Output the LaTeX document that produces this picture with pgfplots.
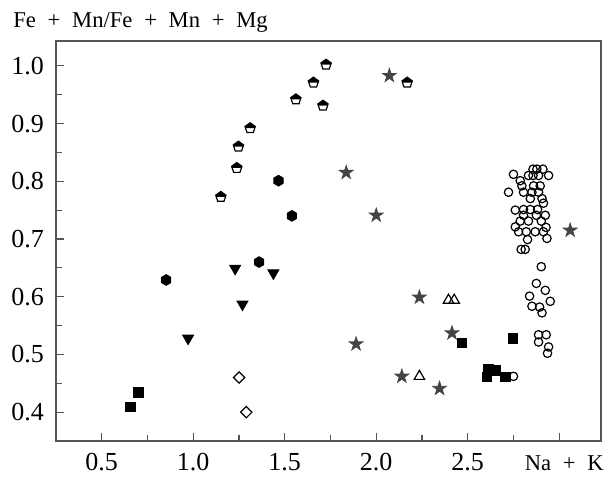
\documentclass[border=0pt]{standalone}
\usepackage{pgfplots}
\pgfplotsset{compat=1.18}
\usepackage{fontspec}
\setmainfont{Liberation Serif}
\usetikzlibrary{calc,plotmarks}
\definecolor{stargray}{HTML}{444444}
\definecolor{axgray}{HTML}{555555}

% pentagon, white with a black upper half
\pgfdeclareplotmark{halfpent}{%
  \pgfpathmoveto{\pgfqpoint{0pt}{\pgfplotmarksize}}%
  \pgfpathlineto{\pgfqpoint{-0.951\pgfplotmarksize}{0.309\pgfplotmarksize}}%
  \pgfpathlineto{\pgfqpoint{-0.588\pgfplotmarksize}{-0.809\pgfplotmarksize}}%
  \pgfpathlineto{\pgfqpoint{0.588\pgfplotmarksize}{-0.809\pgfplotmarksize}}%
  \pgfpathlineto{\pgfqpoint{0.951\pgfplotmarksize}{0.309\pgfplotmarksize}}%
  \pgfpathclose
  \pgfusepathqfillstroke
  \begin{pgfscope}
  \pgfsetfillcolor{black}%
  \pgfpathmoveto{\pgfqpoint{0pt}{\pgfplotmarksize}}%
  \pgfpathlineto{\pgfqpoint{-0.951\pgfplotmarksize}{0.309\pgfplotmarksize}}%
  \pgfpathlineto{\pgfqpoint{-0.851\pgfplotmarksize}{0pt}}%
  \pgfpathlineto{\pgfqpoint{0.851\pgfplotmarksize}{0pt}}%
  \pgfpathlineto{\pgfqpoint{0.951\pgfplotmarksize}{0.309\pgfplotmarksize}}%
  \pgfpathclose
  \pgfusepathqfill
  \end{pgfscope}
}
% filled hexagon
\pgfdeclareplotmark{hexa}{%
  \pgfpathmoveto{\pgfqpoint{0pt}{\pgfplotmarksize}}%
  \pgfpathlineto{\pgfqpoint{-0.866\pgfplotmarksize}{0.5\pgfplotmarksize}}%
  \pgfpathlineto{\pgfqpoint{-0.866\pgfplotmarksize}{-0.5\pgfplotmarksize}}%
  \pgfpathlineto{\pgfqpoint{0pt}{-\pgfplotmarksize}}%
  \pgfpathlineto{\pgfqpoint{0.866\pgfplotmarksize}{-0.5\pgfplotmarksize}}%
  \pgfpathlineto{\pgfqpoint{0.866\pgfplotmarksize}{0.5\pgfplotmarksize}}%
  \pgfpathclose
  \pgfusepathqfillstroke
}
% filled five-point star
\pgfdeclareplotmark{fstar}{%
  \pgfpathmoveto{\pgfqpoint{0pt}{\pgfplotmarksize}}%
  \pgfpathlineto{\pgfqpoint{-0.2245\pgfplotmarksize}{0.309\pgfplotmarksize}}%
  \pgfpathlineto{\pgfqpoint{-0.951\pgfplotmarksize}{0.309\pgfplotmarksize}}%
  \pgfpathlineto{\pgfqpoint{-0.363\pgfplotmarksize}{-0.118\pgfplotmarksize}}%
  \pgfpathlineto{\pgfqpoint{-0.588\pgfplotmarksize}{-0.809\pgfplotmarksize}}%
  \pgfpathlineto{\pgfqpoint{0pt}{-0.382\pgfplotmarksize}}%
  \pgfpathlineto{\pgfqpoint{0.588\pgfplotmarksize}{-0.809\pgfplotmarksize}}%
  \pgfpathlineto{\pgfqpoint{0.363\pgfplotmarksize}{-0.118\pgfplotmarksize}}%
  \pgfpathlineto{\pgfqpoint{0.951\pgfplotmarksize}{0.309\pgfplotmarksize}}%
  \pgfpathlineto{\pgfqpoint{0.2245\pgfplotmarksize}{0.309\pgfplotmarksize}}%
  \pgfpathclose
  \pgfusepathqfillstroke
}

\newcommand\numfont{\fontsize{13}{15}\selectfont}
\newcommand\lblfont{\fontsize{11.3}{13}\selectfont}
\newcommand\plus{\hspace{0.52em}+\hspace{0.52em}}

\begin{document}
\begin{tikzpicture}
\begin{axis}[
  scale only axis, width=272.65pt, height=200pt,
  xmin=0.25, xmax=3.23, ymin=0.35, ymax=1.043,
  axis line style={axgray, line width=0.8pt},
  tick style={axgray, line width=0.6pt},
  major tick length=4pt, minor tick length=3pt,
  tick pos=left, tick align=inside,
  xtick={0.5,1,1.5,2,2.5,3},
  xticklabels={0.5,1.0,1.5,2.0,2.5,{\lblfont\hspace*{5pt}Na\plus K}},
  minor x tick num=1,
  ytick={0.4,0.5,0.6,0.7,0.8,0.9,1.0},
  yticklabels={0.4,0.5,0.6,0.7,0.8,0.9,1.0},
  minor y tick num=1,
  tick label style={font=\numfont},
  xticklabel style={yshift=-2.5pt, text height=8.8pt},
  yticklabel style={xshift=-2.5pt},
  clip=false,
]
\coordinate (bl) at (rel axis cs:0,0);
\coordinate (tr) at (rel axis cs:1,1);

% filled squares
\addplot[only marks, mark=square*, mark size=2.4pt, black] coordinates {
  (0.655,0.409) (0.70,0.434) (2.468,0.520) (2.747,0.528)
  (2.614,0.475) (2.650,0.472) (2.605,0.461) (2.705,0.461)
};
% open diamonds (squares turned by 45 degrees)
\addplot[only marks, mark=square, mark size=2pt, black, mark options={rotate=45, line width=0.6pt}] coordinates {
  (1.251,0.460) (1.290,0.400)
};
% open triangles
\addplot[only marks, mark=triangle, mark size=3pt, black, mark options={line width=0.6pt}] coordinates {
  (2.395,0.594) (2.426,0.594) (2.236,0.462)
};
% down triangles
\addplot[only marks, mark=triangle*, mark size=3.2pt, black, mark options={rotate=180}] coordinates {
  (1.229,0.649) (1.438,0.641) (1.269,0.587) (0.972,0.528)
};
% hexagons
\addplot[only marks, mark=hexa, mark size=2.7pt, black] coordinates {
  (1.466,0.801) (1.539,0.740) (1.360,0.660) (0.852,0.629)
};
% half-filled pentagons
\addplot[only marks, mark=halfpent, mark size=2.7pt, black, mark options={fill=white, line width=0.6pt}] coordinates {
  (1.726,1.002) (1.657,0.971) (1.561,0.942) (1.709,0.931) (1.311,0.892)
  (1.247,0.860) (1.238,0.823) (1.151,0.773) (2.169,0.971)
};
% stars
\addplot[only marks, mark=fstar, mark size=3.6pt, stargray] coordinates {
  (2.236,0.599) (2.414,0.537) (2.140,0.462) (2.346,0.441) (2.072,0.983)
  (1.836,0.815) (2.000,0.741) (1.890,0.518) (3.060,0.715)
};
% open circles
\addplot[only marks, mark=o, mark size=2.1pt, black, mark options={fill=white, line width=0.6pt}] coordinates {
  (2.857,0.821) (2.911,0.821) (2.878,0.821)
  (2.750,0.812) (2.832,0.810) (2.857,0.810) (2.887,0.810) (2.942,0.810)
  (2.787,0.801) (2.796,0.792) (2.860,0.792) (2.896,0.792)
  (2.723,0.781) (2.805,0.781) (2.851,0.781) (2.887,0.781)
  (2.842,0.770) (2.906,0.770) (2.914,0.762)
  (2.760,0.750) (2.805,0.751) (2.842,0.751) (2.882,0.751)
  (2.805,0.741) (2.875,0.741) (2.924,0.741)
  (2.787,0.731) (2.832,0.731) (2.902,0.731)
  (2.760,0.721) (2.928,0.720)
  (2.778,0.7125) (2.820,0.7125) (2.869,0.7125) (2.914,0.7125)
  (2.827,0.699) (2.933,0.701)
  (2.792,0.682) (2.814,0.682)
  (2.902,0.652) (2.875,0.623) (2.924,0.611) (2.838,0.601) (2.951,0.592)
  (2.851,0.5835) (2.893,0.582) (2.906,0.572)
  (2.887,0.534) (2.929,0.534) (2.887,0.5215) (2.942,0.513) (2.936,0.502)
  (2.750,0.462)
};

\node[anchor=base west, font=\lblfont, inner sep=0pt] at ([xshift=-21.5pt,yshift=7pt]rel axis cs:0,1) {Fe\plus Mn/Fe\plus Mn\plus Mg};
\end{axis}
\pgfresetboundingbox
\path[use as bounding box] ($(bl)+(-28pt,-19pt)$) rectangle ($(tr)+(5.35pt,20.5pt)$);
\end{tikzpicture}
\end{document}
